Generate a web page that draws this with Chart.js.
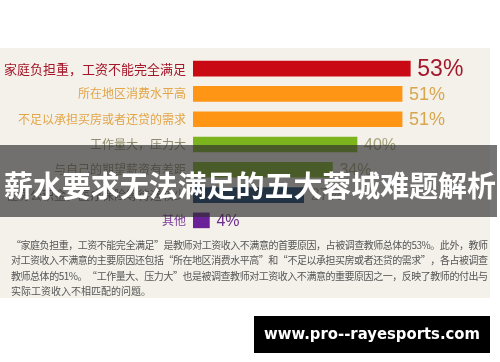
<!DOCTYPE html>
<html>
<head>
<meta charset="utf-8">
<script src="https://cdn.jsdelivr.net/npm/chart.js@4.4.1/dist/chart.umd.min.js"></script>
<style>
  html, body { margin: 0; padding: 0; background: #fff; }
  canvas { display: block; }
</style>
</head>
<body>
<canvas id="chart" width="500" height="362"></canvas>
<script>
// data
const categories = [
  '家庭负担重，工资不能完全满足',
  '所在地区消费水平高',
  '不足以承担买房或者还贷的需求',
  '工作量大，压力大',
  '与自己的期望薪资有差距',
  '住房公积金，医疗保险等待遇较少',
  '其他'
];
const values = [53, 51, 51, 40, 34, 27, 4];

const title = '薪水要求无法满足的五大蓉城难题解析';
const noteLines = [
  '“家庭负担重，工资不能完全满足”是教师对工资收入不满意的首要原因，占被调查教师总体的53%。此外，教师',
  '对工资收入不满意的主要原因还包括“所在地区消费水平高”和“不足以承担买房或者还贷的需求”，各占被调查',
  '教师总体的51%。“工作量大、压力大”也是被调查教师对工资收入不满意的重要原因之一，反映了教师的付出与',
  '实际工资收入不相匹配的问题。'
];
const siteText = 'www.pro--rayesports.com';

// styles
const barColors = ['#c90a14', '#ff9514', '#ff9514', '#7cb41e', '#7cb41e', '#0e3d6e', '#6a2197'];
const labelColors = ['#a5162a', '#e2a548', '#e2a548', '#8e8c6c', '#8e8c6c', '#6e6e66', '#7b3c9c'];
const valueColors = ['#a3192b', '#d8a64c', '#d8a64c', '#a4a27a', '#a4a27a', '#a0a090', '#6a2d8a'];
const valueSizes = [23, 18, 18, 16, 16, 16, 16];

const CJK = '"Noto Sans CJK SC", "Noto Sans", sans-serif';

const backdrop = {
  id: 'backdrop',
  beforeDraw(chart) {
    const ctx = chart.ctx;
    ctx.save();
    ctx.fillStyle = '#ffffff';
    ctx.fillRect(0, 0, chart.width, chart.height);
    ctx.fillStyle = '#f4f1ea';
    ctx.fillRect(0, 48, 490, 250);
    ctx.restore();
  }
};

const valueText = {
  id: 'valueText',
  afterDatasetsDraw(chart) {
    const ctx = chart.ctx;
    const meta = chart.getDatasetMeta(0);
    ctx.save();
    ctx.textBaseline = 'middle';
    ctx.textAlign = 'left';
    meta.data.forEach((bar, i) => {
      ctx.font = valueSizes[i] + 'px "Liberation Sans", Arial, sans-serif';
      ctx.fillStyle = valueColors[i];
      ctx.fillText(values[i] + '%', bar.x + 7, bar.y + 1);
    });
    ctx.restore();
  }
};

function drawJustified(ctx, text, x, y, width) {
  const chars = Array.from(text);
  const natural = ctx.measureText(text).width;
  const gap = (width - natural) / (chars.length - 1);
  let cx = x;
  chars.forEach(ch => {
    ctx.fillText(ch, cx, y);
    cx += ctx.measureText(ch).width + gap;
  });
}

const overlay = {
  id: 'overlay',
  afterDraw(chart) {
    const ctx = chart.ctx;
    ctx.save();
    // dark banner over the middle bars
    ctx.fillStyle = 'rgba(45,45,45,0.66)';
    ctx.fillRect(0, 145, 497, 72);
    ctx.fillStyle = '#ffffff';
    ctx.font = 'bold 29px ' + CJK;
    ctx.textAlign = 'center';
    ctx.textBaseline = 'middle';
    ctx.fillText(title, 250, 186, 492);

    // note paragraph
    ctx.fillStyle = '#555555';
    ctx.font = '10px ' + CJK;
    ctx.textAlign = 'left';
    noteLines.forEach((line, i) => {
      const y = 245 + i * 15.4;
      if (i < noteLines.length - 1) drawJustified(ctx, line, 11, y, 477);
      else ctx.fillText(line, 11, y);
    });

    // site badge
    ctx.fillStyle = '#000000';
    ctx.fillRect(254, 316, 236, 37);
    ctx.fillStyle = '#ffffff';
    ctx.font = 'bold 16px "DejaVu Sans", sans-serif';
    ctx.textAlign = 'center';
    ctx.fillText(siteText, 372, 335, 216);
    ctx.restore();
  }
};

new Chart(document.getElementById('chart'), {
  type: 'bar',
  data: {
    labels: categories,
    datasets: [{
      data: values,
      backgroundColor: barColors,
      barThickness: 15,
      borderWidth: 0
    }]
  },
  options: {
    indexAxis: 'y',
    responsive: false,
    animation: false,
    devicePixelRatio: 1,
    layout: { padding: { top: 56, bottom: 129, left: 0, right: 20 } },
    plugins: { legend: { display: false }, tooltip: { enabled: false } },
    scales: {
      x: { display: false, min: 0, max: 70 },
      y: {
        grid: { display: false, drawTicks: false, tickLength: 0 },
        border: { display: false },
        ticks: {
          padding: 7,
          font: (c) => ({ size: c.index === 0 ? 13 : 12, family: CJK }),
          color: (c) => labelColors[c.index]
        },
        afterFit(scale) { scale.width = 193; }
      }
    }
  },
  plugins: [backdrop, valueText, overlay]
});
</script>
</body>
</html>
